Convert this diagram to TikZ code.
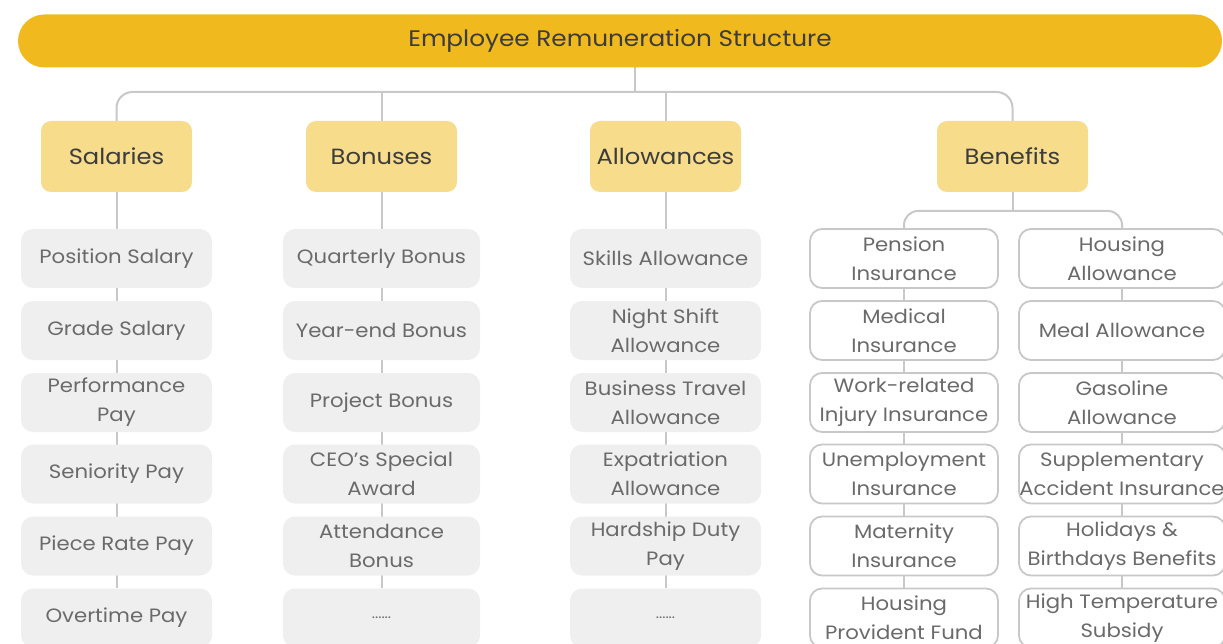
\documentclass[tikz,border=0pt]{standalone}
\usepackage{fontspec}
\setmainfont{Poppins}[FakeStretch=1.1]
\usetikzlibrary{backgrounds}
\definecolor{titleY}{HTML}{F0BA1E}
\definecolor{catY}{HTML}{F7DC8B}
\definecolor{leafG}{HTML}{EFEFEF}
\definecolor{lineG}{HTML}{C8C8C8}
\definecolor{darkT}{HTML}{3C3C3C}
\definecolor{leafT}{HTML}{6A6A6A}
\tikzset{
  titlebox/.style={fill=titleY, rounded corners=26.5pt, minimum width=1204pt, minimum height=53pt, inner sep=0pt, text=darkT, font=\fontsize{22.5}{26}\selectfont},
  catbox/.style={fill=catY, rounded corners=10pt, minimum width=151pt, minimum height=71pt, inner sep=0pt, text=darkT, font=\fontsize{22}{26}\selectfont},
  leafbox/.style={fill=leafG, rounded corners=12pt, minimum height=59pt, inner sep=0pt, align=center, text=leafT, font=\fontsize{19.3}{29}\selectfont},
  bleafbox/.style={leafbox, fill=white, draw=lineG, line width=1.8pt},
  conn/.style={draw=lineG, line width=2pt},
}
\begin{document}
\begin{tikzpicture}[x=1pt, y=-1pt]
\useasboundingbox (0,0) rectangle (1223,644);
\clip (0,0) rectangle (1223,644);
% title
\node[titlebox] (title) at (620,41) {Employee Remuneration Structure};
% categories
\node[catbox] (sal) at (116.5,156.5) {Salaries};
\node[catbox] (bon) at (381.5,156.5) {Bonuses};
\node[catbox] (alw) at (665.5,156.5) {Allowances};
\node[catbox] (ben) at (1012.5,156.5) {Benefits};
% salaries
\begin{scope}[every node/.style={leafbox, minimum width=191pt}]
\node (s1) at (116.5,258.5) {Position Salary};
\node (s2) at (116.5,330.5) {Grade Salary};
\node (s3) at (116.5,402.5) {Performance\\Pay};
\node (s4) at (116.5,474) {Seniority Pay};
\node (s5) at (116.5,546) {Piece Rate Pay};
\node (s6) at (116.5,618) {Overtime Pay};
\end{scope}
% bonuses
\begin{scope}[every node/.style={leafbox, minimum width=197pt}]
\node (b1) at (381.5,258.5) {Quarterly Bonus};
\node (b2) at (381.5,330.5) {Year-end Bonus};
\node (b3) at (381.5,402.5) {Project Bonus};
\node (b4) at (381.5,474) {CEO's Special\\Award};
\node (b5) at (381.5,546) {Attendance\\Bonus};
\node (b6) at (381.5,618) {\fontsize{14}{16}\selectfont ......};
\end{scope}
% allowances
\begin{scope}[every node/.style={leafbox, minimum width=191pt}]
\node (a1) at (665.5,258.5) {Skills Allowance};
\node (a2) at (665.5,330.5) {Night Shift\\Allowance};
\node (a3) at (665.5,402.5) {Business Travel\\Allowance};
\node (a4) at (665.5,474) {Expatriation\\Allowance};
\node (a5) at (665.5,546) {Hardship Duty\\Pay};
\node (a6) at (665.5,618) {\fontsize{14}{16}\selectfont ......};
\end{scope}
% benefits left
\begin{scope}[every node/.style={bleafbox, minimum width=188pt}]
\node (l1) at (904,258.5) {Pension\\Insurance};
\node (l2) at (904,330.5) {Medical\\Insurance};
\node (l3) at (904,402.5) {Work-related\\Injury Insurance};
\node (l4) at (904,474) {Unemployment\\Insurance};
\node (l5) at (904,546) {Maternity\\Insurance};
\node (l6) at (904,618) {Housing\\Provident Fund};
\end{scope}
% benefits right
\begin{scope}[every node/.style={bleafbox, minimum width=206pt}]
\node (r1) at (1122,258.5) {Housing\\Allowance};
\node (r2) at (1122,330.5) {Meal Allowance};
\node (r3) at (1122,402.5) {Gasoline\\Allowance};
\node (r4) at (1122,474) {Supplementary\\Accident Insurance};
\node (r5) at (1122,546) {Holidays \&\\Birthdays Benefits};
\node (r6) at (1122,618) {High Temperature\\Subsidy};
\end{scope}
\coordinate (tb) at (635,67);
\coordinate (hb) at (635,92);
\coordinate (bj) at (1012.5,211);
\begin{scope}[on background layer]
\draw[conn] (tb) -- (hb);
\draw[conn, rounded corners=16pt] (sal.north) |- (hb) -| (ben.north);
\draw[conn] (bon.north) -- (bon.north |- hb);
\draw[conn] (alw.north) -- (alw.north |- hb);
\draw[conn] (sal.south) -- (s6.north);
\draw[conn] (bon.south) -- (b6.north);
\draw[conn] (alw.south) -- (a6.north);
\draw[conn] (ben.south) -- (bj);
\draw[conn, rounded corners=14pt] (l1.north) |- (bj) -| (r1.north);
\draw[conn] (l1.south) -- (l6.north);
\draw[conn] (r1.south) -- (r6.north);
\end{scope}
\end{tikzpicture}
\end{document}
